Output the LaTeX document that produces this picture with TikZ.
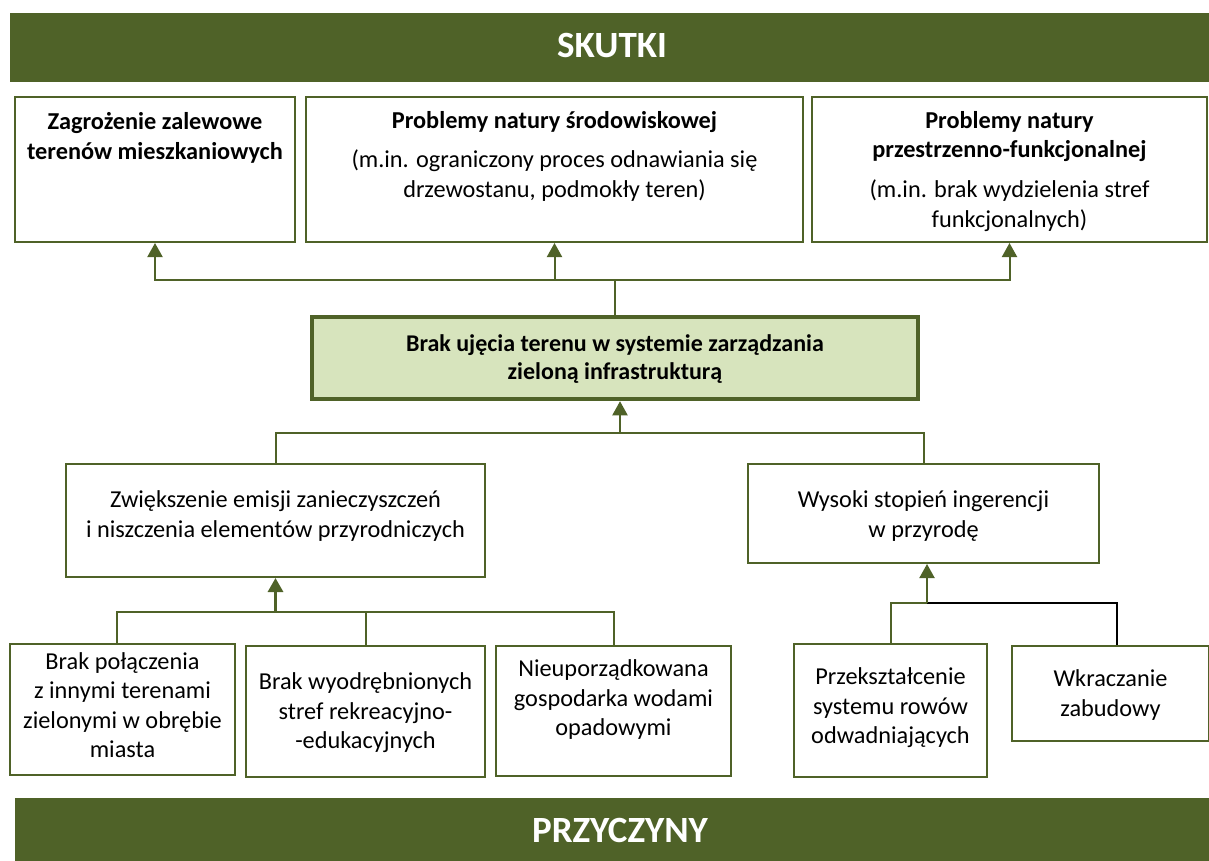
\documentclass[tikz,border=0pt]{standalone}
\usepackage{fontspec}
\setmainfont{Carlito}
\usetikzlibrary{arrows.meta,calc}
\definecolor{olive}{HTML}{4F6228}
\definecolor{lightolive}{HTML}{D7E4BD}
\begin{document}
\begin{tikzpicture}[x=1pt,y=-1pt,
  banner/.style={fill=olive,draw=none,text=white,font=\fontsize{37}{44}\selectfont\bfseries},
  box/.style={draw=olive,line width=2pt,fill=white,inner sep=0pt},
  mainbox/.style={draw=olive,line width=4.5pt,fill=lightolive,inner sep=0pt},
  txt/.style={align=center,inner sep=0pt,font=\fontsize{24.3}{29.5}\selectfont},
  btxt/.style={txt,font=\fontsize{24.3}{29.5}\selectfont\bfseries},
  conn/.style={draw=olive,line width=2pt},
  blk/.style={draw=black,line width=2pt},
  arr/.style={conn,-{Triangle[width=15pt,length=14pt]}},
  arrb/.style={draw=olive,line width=3pt,-{Triangle[width=15pt,length=14pt]}}]
\useasboundingbox (0,0) rectangle (1209,861);
% banners
\node[banner,minimum width=1199pt,minimum height=69pt,inner sep=0pt] (sk) at (609.5,47.5) {};
\node[banner,inner sep=0pt] (skt) at (612,46) {SKUTKI};
\node[banner,minimum width=1194pt,minimum height=63pt,inner sep=0pt] (pr) at (612,829.5) {};
\node[banner,inner sep=0pt] (prt) at (620,830) {PRZYCZYNY};
% top boxes
\node[box,minimum width=280pt,minimum height=145pt] (t1) at (155,169.5) {};
\node[btxt] at (155,138) {Zagrożenie zalewowe\\terenów mieszkaniowych};
\node[box,minimum width=497pt,minimum height=145pt] (t2) at (554.5,169.5) {};
\node[btxt,anchor=north] (t2a) at (554.5,111) {Problemy natury środowiskowej};
\node[txt,anchor=north] at (554.5,150) {(m.in. ograniczony proces odnawiania się\\drzewostanu, podmokły teren)};
\node[box,minimum width=395pt,minimum height=145pt] (t3) at (1009.5,169.5) {};
\node[btxt,anchor=north] at (1009.5,111) {Problemy natury\\przestrzenno-funkcjonalnej};
\node[txt,anchor=north] at (1009.5,180) {(m.in. brak wydzielenia stref\\funkcjonalnych)};
% center
\node[mainbox,minimum width=606pt,minimum height=82pt] (cb) at (615,358) {};
\node[btxt,font=\fontsize{24}{27.5}\selectfont\bfseries] at (615,359) {Brak ujęcia terenu w systemie zarządzania\\zieloną infrastrukturą};
% middle boxes
\node[box,minimum width=419pt,minimum height=113pt] (zw) at (275.5,520.5) {};
\node[txt] at (275.5,516) {Zwiększenie emisji zanieczyszczeń\\i niszczenia elementów przyrodniczych};
\node[box,minimum width=351pt,minimum height=99pt] (wy) at (923.5,513.5) {};
\node[txt] at (923.5,516) {Wysoki stopień ingerencji\\w przyrodę};
% bottom boxes
\node[box,minimum width=225pt,minimum height=131pt] (b1) at (122.5,709.5) {};
\node[txt] at (122.5,705) {Brak połączenia\\z innymi terenami\\zielonymi w obrębie\\miasta};
\node[box,minimum width=239pt,minimum height=131pt] (b2) at (365.5,711.5) {};
\node[txt] at (365.5,713) {Brak wyodrębnionych\\stref rekreacyjno-\\-edukacyjnych};
\node[box,minimum width=235pt,minimum height=130pt] (b3) at (613.5,711) {};
\node[txt] at (613.5,700) {Nieuporządkowana\\gospodarka wodami\\opadowymi};
\node[box,minimum width=193pt,minimum height=133pt] (p1) at (890.5,710.5) {};
\node[txt] at (890.5,708) {Przekształcenie\\systemu rowów\\odwadniających};
\node[box,minimum width=197pt,minimum height=95pt] (w1) at (1110.5,693.5) {};
\node[txt] at (1110.5,695) {Wkraczanie\\zabudowy};
% connectors top
\coordinate (jt) at (615,280);
\draw[conn] (cb.north) -- (jt);
\draw[arr] (jt) -| (t1.south);
\draw[arr] (jt) -| (t2.south);
\draw[arr] (jt) -| (t3.south);
% middle
\coordinate (jm) at (620,433);
\draw[arr] (jm) -- (jm |- cb.south);
\draw[conn] (jm) -| (zw.north);
\draw[conn] (jm) -| (wy.north);
% lower left
\coordinate (jl) at (275.5,612);
\draw[conn] (jl) -| ([xshift=-5.5pt]b1.north);
\draw[conn] (jl) -| (b2.north);
\draw[conn] (jl) -| (b3.north);
\draw[arrb] (jl) -- (zw.south);
% lower right
\coordinate (jr) at (927,603);
\draw[blk] (jr) -| ([xshift=6.5pt]w1.north);
\draw[conn] (jr) -| (p1.north);
\draw[arr] (jr) -- (jr |- wy.south);
\end{tikzpicture}
\end{document}
